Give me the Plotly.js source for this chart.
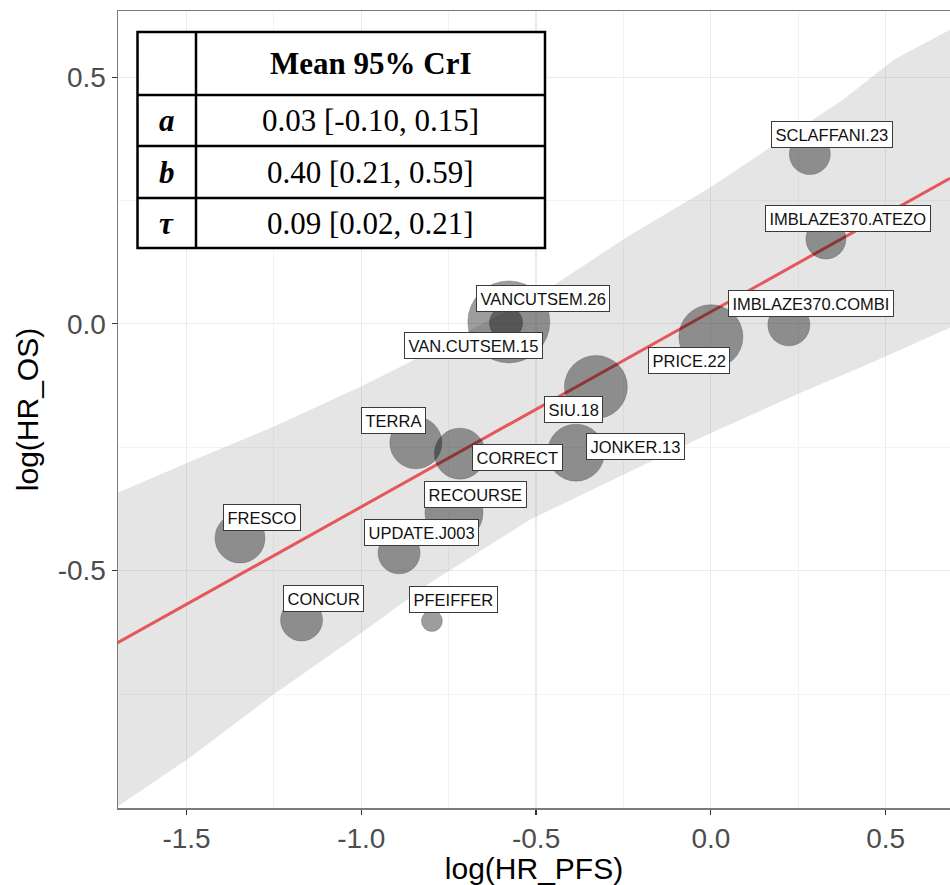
<!DOCTYPE html>
<html>
<head>
<meta charset="utf-8">
<script src="https://cdn.plot.ly/plotly-3.0.1.min.js"></script>
<style>
  html, body { margin: 0; padding: 0; background: #ffffff; }
  #chart { width: 950px; height: 885px; }
</style>
</head>
<body>
<div id="chart"></div>
<script>
// ---- Data ----
const studies = ["SCLAFFANI.23", "IMBLAZE370.ATEZO", "IMBLAZE370.COMBI", "PRICE.22", "SIU.18",
  "JONKER.13", "VANCUTSEM.26", "VAN.CUTSEM.15", "TERRA", "CORRECT", "RECOURSE",
  "UPDATE.J003", "FRESCO", "CONCUR", "PFEIFFER"];
const logHR_PFS = [0.283, 0.329, 0.223, 0.000, -0.329, -0.386, -0.578, -0.586, -0.844, -0.718, -0.735, -0.892, -1.347, -1.171, -0.798];
const logHR_OS  = [0.344, 0.172, -0.002, -0.026, -0.128, -0.261, 0.004, 0.002, -0.241, -0.263, -0.383, -0.464, -0.434, -0.600, -0.602];
const studyWeight = [41, 40, 42, 64, 63, 57, 82, 33, 52, 51, 58, 42, 50, 42, 21];

// prediction band edges
const bandUpperX = [-1.699, -1.499, -1.253, -1.004, -0.861, -0.469, -0.240, -0.003, 0.169, 0.378, 0.523, 0.684];
const bandUpperY = [-0.343, -0.282, -0.209, -0.128, -0.077, 0.069, 0.176, 0.276, 0.357, 0.454, 0.535, 0.596];
const bandLowerX = [-1.699, -1.499, -1.253, -0.995, -0.804, -0.518, -0.252, -0.031, 0.255, 0.446, 0.684];
const bandLowerY = [-0.979, -0.883, -0.752, -0.624, -0.525, -0.397, -0.306, -0.231, -0.140, -0.083, -0.008];

// fitted line end points
const fitX = [-1.699, 0.684];
const fitY = [-0.647, 0.295];

// tick labels
const xTickVals = [-1.5, -1.0, -0.5, 0.0, 0.5];
const xTickText = ["-1.5", "-1.0", "-0.5", "0.0", "0.5"];
const yTickVals = [-0.5, 0.0, 0.5];
const yTickText = ["-0.5", "0.0", "0.5"];

// summary table
const tableHeader = "Mean 95% CrI";
const tableParams = ["a", "b", "τ"];
const tableValues = ["0.03 [-0.10, 0.15]", "0.40 [0.21, 0.59]", "0.09 [0.02, 0.21]"];

// ---- Layout helpers ----
const W = 950, H = 885;
const M = { l: 118, r: 0, t: 11, b: 77 };
const PW = W - M.l - M.r, PH = H - M.t - M.b;
const px = v => (v - M.l) / PW;
const py = v => (H - M.b - v) / PH;

// label offsets (pixels) from each point
const labelOffsets = [
  [22, -20], [22, -21], [22, -21], [-22, 24], [-22, 22],
  [60, -6], [34, -23], [-33, 23], [-22, -22], [58, 4],
  [22, -18], [22, -20], [22, -21], [22, -21], [22, -21]
];

const traces = [
  {
    type: "scatter", mode: "lines",
    x: bandUpperX.concat(bandLowerX.slice().reverse()),
    y: bandUpperY.concat(bandLowerY.slice().reverse()),
    fill: "toself", fillcolor: "rgba(127,127,127,0.2)",
    line: { width: 0 }, hoverinfo: "skip", showlegend: false
  },
  {
    type: "scatter", mode: "lines", x: fitX, y: fitY,
    line: { color: "#E5575A", width: 3 }, showlegend: false, hoverinfo: "skip"
  },
  {
    type: "scatter", mode: "markers", x: logHR_PFS, y: logHR_OS, text: studies,
    marker: {
      size: studyWeight, sizemode: "diameter", sizeref: 1,
      color: "rgba(0,0,0,0.54)",
      line: { color: "rgba(0,0,0,0.3)", width: 1 }
    },
    showlegend: false
  }
];

const annotations = studies.map((s, i) => ({
  x: logHR_PFS[i], y: logHR_OS[i], xref: "x", yref: "y",
  text: s, showarrow: true, arrowcolor: "rgba(0,0,0,0)", arrowwidth: 0.1,
  ax: labelOffsets[i][0], ay: labelOffsets[i][1],
  bgcolor: "#ffffff", bordercolor: "#3a3a3a", borderwidth: 1, borderpad: 3.5,
  font: { family: "Liberation Sans, Arial, sans-serif", size: 16.5, color: "#111" }
}));

// table
const tL = 137.5, tR = 545, tT = 32, tB = 248, tC = 196;
const rowLines = [95, 146, 198];
const rowCenters = [120.5, 172, 223];
const shapes = [
  { type: "rect", xref: "paper", yref: "paper", x0: px(tL), x1: px(tR), y0: py(tB), y1: py(tT),
    fillcolor: "#ffffff", line: { color: "#000", width: 2.5 }, layer: "above" },
  { type: "line", xref: "paper", yref: "paper", x0: px(tC), x1: px(tC), y0: py(tB), y1: py(tT),
    line: { color: "#000", width: 2.5 }, layer: "above" }
];
rowLines.forEach(r => shapes.push({
  type: "line", xref: "paper", yref: "paper", x0: px(tL), x1: px(tR), y0: py(r), y1: py(r),
  line: { color: "#000", width: 2.5 }, layer: "above"
}));
const serif = "Liberation Serif, Times New Roman, serif";
annotations.push({
  xref: "paper", yref: "paper", x: px((tC + tR) / 2), y: py(63.5), showarrow: false,
  text: "<b>" + tableHeader + "</b>", font: { family: serif, size: 31, color: "#000" },
  xanchor: "center", yanchor: "middle"
});
tableParams.forEach((p, i) => {
  annotations.push({
    xref: "paper", yref: "paper", x: px((tL + tC) / 2), y: py(rowCenters[i]), showarrow: false,
    text: "<b><i>" + p + "</i></b>", font: { family: serif, size: 31, color: "#000" },
    xanchor: "center", yanchor: "middle"
  });
  annotations.push({
    xref: "paper", yref: "paper", x: px((tC + tR) / 2), y: py(rowCenters[i]), showarrow: false,
    text: tableValues[i], font: { family: serif, size: 31, color: "#000" },
    xanchor: "center", yanchor: "middle"
  });
});

const axisFont = { family: "Liberation Sans, Arial, sans-serif", size: 28, color: "#4d4d4d" };
const titleFont = { family: "Liberation Sans, Arial, sans-serif", size: 30, color: "#000" };
const layout = {
  width: W, height: H,
  margin: { l: M.l, r: M.r, t: M.t, b: M.b, pad: 0 },
  paper_bgcolor: "#ffffff", plot_bgcolor: "#ffffff",
  showlegend: false,
  xaxis: {
    range: [-1.696, 0.684], tickvals: xTickVals, ticktext: xTickText,
    ticks: "outside", ticklen: 5, tickwidth: 1.2, tickcolor: "#333",
    tickfont: axisFont, showgrid: true, gridcolor: "#ebebeb", gridwidth: 1.2,
    minor: { dtick: 0.25, tick0: 0, showgrid: true, gridcolor: "#f0f0f0", gridwidth: 0.8, ticks: "" },
    zeroline: false, showline: true, linecolor: "#7a7a7a", linewidth: 1.5, mirror: true,
    title: { text: "log(HR_PFS)", font: titleFont, standoff: 6 }
  },
  yaxis: {
    range: [-0.981, 0.634], tickvals: yTickVals, ticktext: yTickText,
    ticks: "outside", ticklen: 5, tickwidth: 1.2, tickcolor: "#333",
    tickfont: axisFont, showgrid: true, gridcolor: "#ebebeb", gridwidth: 1.2,
    minor: { dtick: 0.25, tick0: 0, showgrid: true, gridcolor: "#f0f0f0", gridwidth: 0.8, ticks: "" },
    zeroline: false, showline: true, linecolor: "#7a7a7a", linewidth: 1.5, mirror: false,
    title: { text: "log(HR_OS)", font: titleFont, standoff: 10 }
  },
  shapes: shapes,
  annotations: annotations
};

Plotly.newPlot("chart", traces, layout, { displayModeBar: false, staticPlot: true });
</script>
</body>
</html>
